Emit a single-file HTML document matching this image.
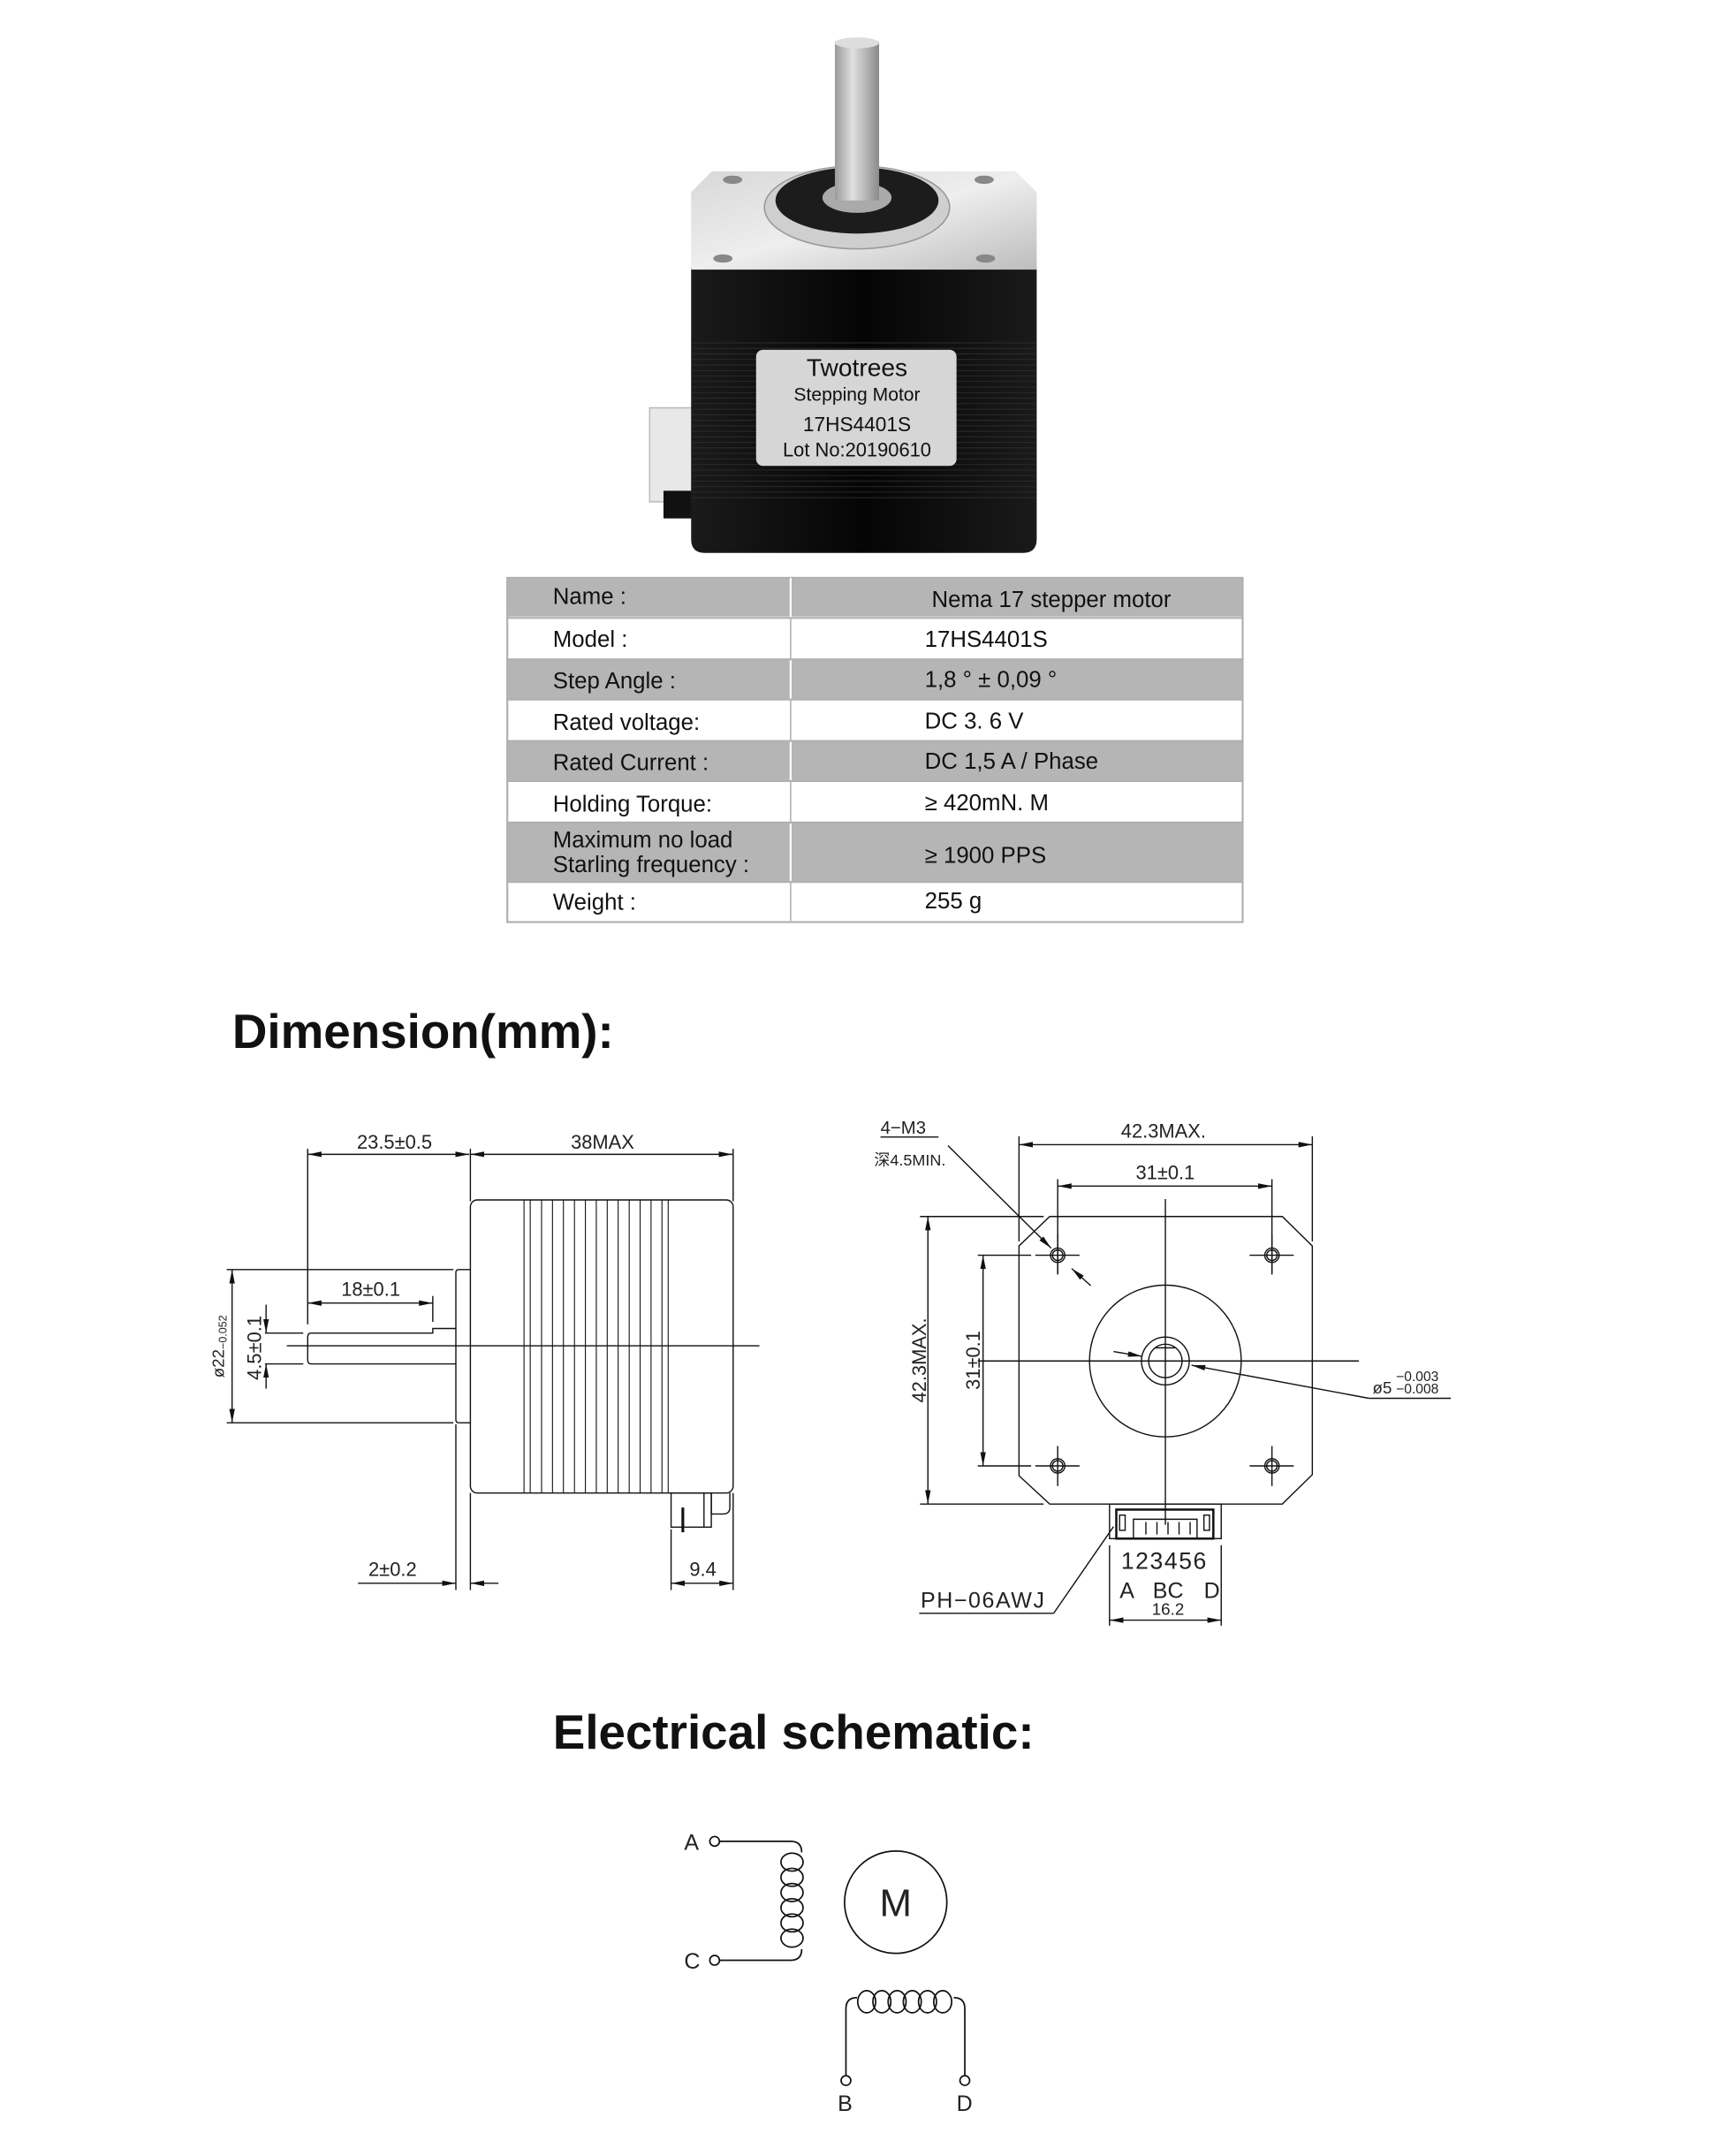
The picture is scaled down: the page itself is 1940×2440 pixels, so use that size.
<!DOCTYPE html>
<html><head><meta charset="utf-8"><style>
html,body{margin:0;padding:0;background:#fff;}
svg{display:block;}
text{font-family:"Liberation Sans",sans-serif;}
</style></head><body>
<svg width="1940" height="2440" viewBox="0 0 1240 1559.6" xmlns="http://www.w3.org/2000/svg">
<defs>
<marker id="ar" viewBox="0 0 10 4" refX="10" refY="2" markerWidth="10" markerHeight="4" markerUnits="userSpaceOnUse" orient="auto-start-reverse"><path d="M0,0 L10,2 L0,4 z" fill="#111"/></marker>
<linearGradient id="sil" x1="0" y1="0" x2="1" y2="1"><stop offset="0" stop-color="#d8d8d8"/><stop offset="0.5" stop-color="#eeeeee"/><stop offset="1" stop-color="#bdbdbd"/></linearGradient>
<linearGradient id="shaft" x1="0" y1="0" x2="1" y2="0"><stop offset="0" stop-color="#9a9a9a"/><stop offset="0.4" stop-color="#e0e0e0"/><stop offset="1" stop-color="#8a8a8a"/></linearGradient>
<linearGradient id="blk" x1="0" y1="0" x2="1" y2="0"><stop offset="0" stop-color="#1a1a1a"/><stop offset="0.5" stop-color="#050505"/><stop offset="1" stop-color="#1a1a1a"/></linearGradient>
</defs>

<!-- MOTOR PHOTO -->
<rect x="470" y="295" width="32" height="68" fill="#e8e8e8" stroke="#bbb"/>
<rect x="480" y="355" width="22" height="20" fill="#111"/>
<path d="M500,193 H750 V390 Q750,400 740,400 H510 Q500,400 500,390 Z" fill="url(#blk)"/>
<g stroke="#2c2c2c" stroke-width="0.6">
<line x1="500" y1="248" x2="750" y2="248"/><line x1="500" y1="252" x2="750" y2="252"/><line x1="500" y1="256" x2="750" y2="256"/><line x1="500" y1="260" x2="750" y2="260"/><line x1="500" y1="264" x2="750" y2="264"/><line x1="500" y1="268" x2="750" y2="268"/><line x1="500" y1="272" x2="750" y2="272"/><line x1="500" y1="276" x2="750" y2="276"/><line x1="500" y1="280" x2="750" y2="280"/><line x1="500" y1="284" x2="750" y2="284"/><line x1="500" y1="288" x2="750" y2="288"/><line x1="500" y1="292" x2="750" y2="292"/><line x1="500" y1="296" x2="750" y2="296"/><line x1="500" y1="300" x2="750" y2="300"/><line x1="500" y1="304" x2="750" y2="304"/><line x1="500" y1="308" x2="750" y2="308"/><line x1="500" y1="312" x2="750" y2="312"/><line x1="500" y1="316" x2="750" y2="316"/><line x1="500" y1="320" x2="750" y2="320"/><line x1="500" y1="324" x2="750" y2="324"/><line x1="500" y1="328" x2="750" y2="328"/><line x1="500" y1="332" x2="750" y2="332"/><line x1="500" y1="336" x2="750" y2="336"/><line x1="500" y1="340" x2="750" y2="340"/><line x1="500" y1="344" x2="750" y2="344"/><line x1="500" y1="348" x2="750" y2="348"/><line x1="500" y1="352" x2="750" y2="352"/><line x1="500" y1="356" x2="750" y2="356"/><line x1="500" y1="360" x2="750" y2="360"/>
</g>
<path d="M515,124 H735 L750,139 V195 H500 V139 Z" fill="url(#sil)"/>
<ellipse cx="530" cy="130" rx="7" ry="3" fill="#888"/><ellipse cx="712" cy="130" rx="7" ry="3" fill="#888"/>
<ellipse cx="523" cy="187" rx="7" ry="3" fill="#888"/><ellipse cx="713" cy="187" rx="7" ry="3" fill="#888"/>
<ellipse cx="620" cy="150" rx="67" ry="30" fill="#cfcfcf" stroke="#999"/>
<ellipse cx="620" cy="145" rx="59" ry="24" fill="#1c1c1c"/>
<ellipse cx="620" cy="143" rx="25" ry="11" fill="#aaa"/>
<rect x="604" y="30" width="32" height="115" fill="url(#shaft)"/>
<ellipse cx="620" cy="31" rx="16" ry="4" fill="#ddd"/>
<rect x="547" y="253" width="145" height="84" rx="5" fill="#d6d6d6"/>
<text x="620" y="272" font-size="18" text-anchor="middle" fill="#111">Twotrees</text>
<text x="620" y="290" font-size="13.5" text-anchor="middle" fill="#111">Stepping Motor</text>
<text x="620" y="312" font-size="14.5" text-anchor="middle" fill="#111">17HS4401S</text>
<text x="620" y="330" font-size="14" text-anchor="middle" fill="#111">Lot No:20190610</text>

<!-- TABLE -->
<g>
<rect x="367" y="418" width="532" height="28" fill="#b5b5b5"/>
<rect x="367" y="477" width="532" height="29" fill="#b5b5b5"/>
<rect x="367" y="536" width="532" height="29" fill="#b5b5b5"/>
<rect x="367" y="595" width="532" height="43" fill="#b5b5b5"/>
<g stroke="#b0b0b0" stroke-width="1.4" fill="none">
<rect x="367" y="418" width="532" height="249"/>
<line x1="572" y1="418" x2="572" y2="667" stroke="#fff"/>
<line x1="367" y1="447" x2="899" y2="447"/><line x1="367" y1="477" x2="899" y2="477"/>
<line x1="367" y1="506" x2="899" y2="506"/><line x1="367" y1="536" x2="899" y2="536"/>
<line x1="367" y1="565" x2="899" y2="565"/><line x1="367" y1="595" x2="899" y2="595"/>
<line x1="367" y1="638" x2="899" y2="638"/>
</g>
<line x1="572" y1="447" x2="572" y2="477" stroke="#b0b0b0"/><line x1="572" y1="506" x2="572" y2="536" stroke="#b0b0b0"/><line x1="572" y1="565" x2="572" y2="595" stroke="#b0b0b0"/><line x1="572" y1="638" x2="572" y2="667" stroke="#b0b0b0"/>
<g font-size="16.5" fill="#111">
<text x="400" y="437">Name :</text><text x="674" y="439">Nema 17 stepper motor</text>
<text x="400" y="468">Model :</text><text x="669" y="468">17HS4401S</text>
<text x="400" y="498">Step Angle :</text><text x="669" y="497">1,8 ° ± 0,09 °</text>
<text x="400" y="528">Rated voltage:</text><text x="669" y="527">DC 3. 6 V</text>
<text x="400" y="557">Rated Current :</text><text x="669" y="556">DC 1,5 A / Phase</text>
<text x="400" y="587">Holding Torque:</text><text x="669" y="586">≥ 420mN. M</text>
<text x="400" y="613">Maximum no load</text><text x="400" y="631">Starling frequency :</text><text x="669" y="624">≥ 1900 PPS</text>
<text x="400" y="658">Weight :</text><text x="669" y="657">255 g</text>
</g>
</g>

<text x="168" y="758" font-size="35" font-weight="bold" fill="#111">Dimension(mm):</text>
<text x="400" y="1265" font-size="35" font-weight="bold" fill="#111">Electrical schematic:</text>

<!-- LEFT DRAWING -->
<g stroke="#111" stroke-width="0.9" fill="none">
<line x1="222.6" y1="831" x2="222.6" y2="958"/>
<line x1="340.3" y1="831" x2="340.3" y2="869"/>
<line x1="530.4" y1="831" x2="530.4" y2="869"/>
<line x1="222.6" y1="835" x2="339.5" y2="835" marker-start="url(#ar)" marker-end="url(#ar)"/>
<line x1="340.3" y1="835" x2="530" y2="835" marker-start="url(#ar)" marker-end="url(#ar)"/>
<rect x="340.3" y="868" width="190.1" height="212" rx="5"/>
<g stroke-width="0.7">
<line x1="379.1" y1="868" x2="379.1" y2="1080"/><line x1="383.6" y1="868" x2="383.6" y2="1080"/><line x1="391.8" y1="868" x2="391.8" y2="1080"/><line x1="399.7" y1="868" x2="399.7" y2="1080"/><line x1="407.6" y1="868" x2="407.6" y2="1080"/><line x1="415.6" y1="868" x2="415.6" y2="1080"/><line x1="423.5" y1="868" x2="423.5" y2="1080"/><line x1="431.4" y1="868" x2="431.4" y2="1080"/><line x1="439.3" y1="868" x2="439.3" y2="1080"/><line x1="447.2" y1="868" x2="447.2" y2="1080"/><line x1="455.2" y1="868" x2="455.2" y2="1080"/><line x1="463.1" y1="868" x2="463.1" y2="1080"/><line x1="471" y1="868" x2="471" y2="1080"/><line x1="478.9" y1="868" x2="478.9" y2="1080"/><line x1="483.4" y1="868" x2="483.4" y2="1080"/>
</g>
<path d="M340.3,918.4 H332 Q329.8,918.4 329.8,920.6 V1027 Q329.8,1029.2 332,1029.2 H340.3"/>
<line x1="164" y1="918.4" x2="328" y2="918.4"/>
<line x1="164" y1="1029.2" x2="328" y2="1029.2"/>
<line x1="167.9" y1="918.4" x2="167.9" y2="1029.2" marker-start="url(#ar)" marker-end="url(#ar)"/>
<path d="M329.8,961 H313.1 V964.3 H225 Q222.6,964.3 222.6,967.5 V983.5 Q222.6,986.6 225,986.6 H329.8"/>
<line x1="207.5" y1="973.5" x2="549.4" y2="973.5"/>
<line x1="313.1" y1="937.5" x2="313.1" y2="956.2"/>
<line x1="222.6" y1="942.6" x2="313.1" y2="942.6" marker-start="url(#ar)" marker-end="url(#ar)"/>
<line x1="191.7" y1="964.3" x2="219.4" y2="964.3"/>
<line x1="191.7" y1="986.6" x2="219.4" y2="986.6"/>
<line x1="192.5" y1="943.8" x2="192.5" y2="964.3" marker-end="url(#ar)"/>
<line x1="192.5" y1="1004.5" x2="192.5" y2="986.6" marker-end="url(#ar)"/>
<line x1="329.8" y1="1030.3" x2="329.8" y2="1150.2"/>
<line x1="340.3" y1="1080" x2="340.3" y2="1150.2"/>
<line x1="259" y1="1145.3" x2="329.8" y2="1145.3" marker-end="url(#ar)"/>
<line x1="360.6" y1="1145.3" x2="340.3" y2="1145.3" marker-end="url(#ar)"/>
<rect x="485.5" y="1080" width="29.1" height="24.7"/>
<line x1="509.3" y1="1080" x2="509.3" y2="1104.7"/>
<path d="M514.6,1080 V1095.2 H523 Q528,1095.2 528,1090.5 V1080"/>
<line x1="494" y1="1090.5" x2="494" y2="1108.4" stroke-width="2"/>
<line x1="485.5" y1="1106.3" x2="485.5" y2="1150.2"/>
<line x1="530.4" y1="1080" x2="530.4" y2="1150.2"/>
<line x1="485.5" y1="1145.3" x2="530.4" y2="1145.3" marker-start="url(#ar)" marker-end="url(#ar)"/>
</g>
<g font-size="14" fill="#222" text-anchor="middle">
<text x="285.4" y="831">23.5±0.5</text>
<text x="435.9" y="831">38MAX</text>
<text x="268.2" y="937.5">18±0.1</text>
<text x="284" y="1140">2±0.2</text>
<text x="508.5" y="1140">9.4</text>
<text transform="translate(189,975) rotate(-90)">4.5±0.1</text>
<text transform="translate(162,974) rotate(-90)" font-size="12">ø22<tspan font-size="8" dy="2">−0.052</tspan></text>
</g>

<!-- RIGHT DRAWING -->
<g stroke="#111" stroke-width="0.9" fill="none">
<path d="M759.4,880 H927.7 L949.4,901.3 V1066.7 L927.7,1088 H759.4 L737.2,1067.5 V901.3 Z"/>
<line x1="737.2" y1="822" x2="737.2" y2="898"/><line x1="949.4" y1="822" x2="949.4" y2="898"/>
<line x1="737.2" y1="828" x2="949.4" y2="828" marker-start="url(#ar)" marker-end="url(#ar)"/>
<line x1="765.2" y1="853" x2="765.2" y2="921"/><line x1="920.2" y1="853" x2="920.2" y2="921"/>
<line x1="765.2" y1="858" x2="920.2" y2="858" marker-start="url(#ar)" marker-end="url(#ar)"/>
<line x1="843.1" y1="867.4" x2="843.1" y2="1103"/>
<line x1="707.4" y1="984.5" x2="983.1" y2="984.5"/>
<circle cx="843.1" cy="984.5" r="54.9"/>
<circle cx="843.1" cy="984.5" r="17.3"/>
<circle cx="843.1" cy="984.5" r="12.1"/>
<line x1="836" y1="975" x2="850" y2="975"/>
<g>
<circle cx="765.2" cy="908" r="5.2"/><circle cx="765.2" cy="908" r="3.8"/>
<circle cx="920.2" cy="908" r="5.2"/><circle cx="920.2" cy="908" r="3.8"/>
<circle cx="765.2" cy="1060.4" r="5.2"/><circle cx="765.2" cy="1060.4" r="3.8"/>
<circle cx="920.2" cy="1060.4" r="5.2"/><circle cx="920.2" cy="1060.4" r="3.8"/>
<line x1="749" y1="908" x2="781" y2="908"/><line x1="765.2" y1="893" x2="765.2" y2="922"/>
<line x1="904" y1="908" x2="936" y2="908"/><line x1="920.2" y1="893" x2="920.2" y2="922"/>
<line x1="749" y1="1060.4" x2="781" y2="1060.4"/><line x1="765.2" y1="1046" x2="765.2" y2="1075"/>
<line x1="904" y1="1060.4" x2="936" y2="1060.4"/><line x1="920.2" y1="1046" x2="920.2" y2="1075"/>
</g>
<line x1="665.6" y1="880" x2="755" y2="880"/><line x1="665.6" y1="1088" x2="755" y2="1088"/>
<line x1="671.3" y1="880" x2="671.3" y2="1088" marker-start="url(#ar)" marker-end="url(#ar)"/>
<line x1="707.4" y1="908" x2="746" y2="908"/><line x1="707.4" y1="1060.4" x2="746" y2="1060.4"/>
<line x1="711.2" y1="908" x2="711.2" y2="1060.4" marker-start="url(#ar)" marker-end="url(#ar)"/>
<line x1="637" y1="822.5" x2="679" y2="822.5"/>
<line x1="685.8" y1="828.7" x2="760.5" y2="902.9" marker-end="url(#ar)"/>
<line x1="789.1" y1="930" x2="775.3" y2="917.6" marker-end="url(#ar)"/>
<line x1="805.6" y1="977.7" x2="826" y2="981.1" marker-end="url(#ar)"/>
<line x1="990.3" y1="1011.5" x2="862" y2="987.6" marker-end="url(#ar)"/>
<line x1="990.3" y1="1011.5" x2="1049.6" y2="1011.5"/>
<rect x="802.7" y="1088" width="80.8" height="25"/>
<rect x="807.6" y="1092" width="70.2" height="21" stroke-width="1.6"/>
<rect x="810" y="1096" width="4" height="11"/><rect x="871" y="1096" width="4" height="11"/>
<path d="M820,1113 V1099 H866 V1113"/>
<line x1="829" y1="1101" x2="829" y2="1110"/><line x1="837" y1="1101" x2="837" y2="1110"/><line x1="845" y1="1101" x2="845" y2="1110"/><line x1="853" y1="1101" x2="853" y2="1110"/><line x1="861" y1="1101" x2="861" y2="1110"/>
<line x1="802.7" y1="1117.8" x2="802.7" y2="1176"/><line x1="883.5" y1="1117.8" x2="883.5" y2="1176"/>
<line x1="802.7" y1="1172" x2="883.5" y2="1172" marker-start="url(#ar)" marker-end="url(#ar)"/>
<line x1="665" y1="1167" x2="762.3" y2="1167"/>
<line x1="762.3" y1="1167" x2="805.6" y2="1104.3"/>
</g>
<g font-size="14" fill="#222">
<text x="841.7" y="823" text-anchor="middle">42.3MAX.</text>
<text x="843" y="853" text-anchor="middle">31±0.1</text>
<text x="637" y="820" font-size="13">4−M3</text>
<text x="632.4" y="843" font-size="11.5" font-family="'Liberation Serif','Noto Serif CJK SC',serif">深4.5MIN.</text>
<text transform="translate(670,984) rotate(-90)" text-anchor="middle">42.3MAX.</text>
<text transform="translate(709,984) rotate(-90)" text-anchor="middle">31±0.1</text>
<text x="993" y="1008" font-size="12">ø5</text>
<text x="1010" y="999" font-size="10">−0.003</text>
<text x="1010" y="1008" font-size="10">−0.008</text>
<text x="811" y="1135" font-size="17" letter-spacing="1">123456</text>
<text font-size="16"><tspan x="810" y="1156">A</tspan><tspan x="834" y="1156">BC</tspan><tspan x="871" y="1156">D</tspan></text>
<text x="845" y="1168" font-size="12" text-anchor="middle">16.2</text>
<text x="666" y="1163" font-size="16" letter-spacing="1">PH−06AWJ</text>
</g>

<!-- SCHEMATIC -->
<g transform="translate(0,-7)">
<g stroke="#111" stroke-width="1.1" fill="none">
<circle cx="517" cy="1339" r="3.5"/>
<path d="M520.5,1339 H572 Q580,1339 580,1347"/>
<circle cx="517" cy="1425" r="3.5"/>
<path d="M520.5,1425 H572 Q580,1425 580,1417"/>
<ellipse cx="573" cy="1354" rx="8" ry="6.5"/><ellipse cx="573" cy="1365" rx="8" ry="6.5"/><ellipse cx="573" cy="1376" rx="8" ry="6.5"/><ellipse cx="573" cy="1387" rx="8" ry="6.5"/><ellipse cx="573" cy="1398" rx="8" ry="6.5"/><ellipse cx="573" cy="1409" rx="8" ry="6.5"/>
<circle cx="648" cy="1383" r="37"/>
<path d="M612,1508 V1460 Q612,1452 620,1452"/>
<path d="M698,1508 V1460 Q698,1452 690,1452"/>
<ellipse cx="627" cy="1455" rx="6.5" ry="8"/><ellipse cx="638" cy="1455" rx="6.5" ry="8"/><ellipse cx="649" cy="1455" rx="6.5" ry="8"/><ellipse cx="660" cy="1455" rx="6.5" ry="8"/><ellipse cx="671" cy="1455" rx="6.5" ry="8"/><ellipse cx="682" cy="1455" rx="6.5" ry="8"/>
<circle cx="612" cy="1512" r="3.5"/><circle cx="698" cy="1512" r="3.5"/>
</g>
<g font-size="16" fill="#222">
<text x="495" y="1345">A</text>
<text x="495" y="1431">C</text>
<text x="606" y="1534">B</text>
<text x="692" y="1534">D</text>
<text x="648" y="1393" font-size="28" text-anchor="middle" font-family="'Liberation Serif',serif">M</text>
</g>
</g>
</svg>
</body></html>
